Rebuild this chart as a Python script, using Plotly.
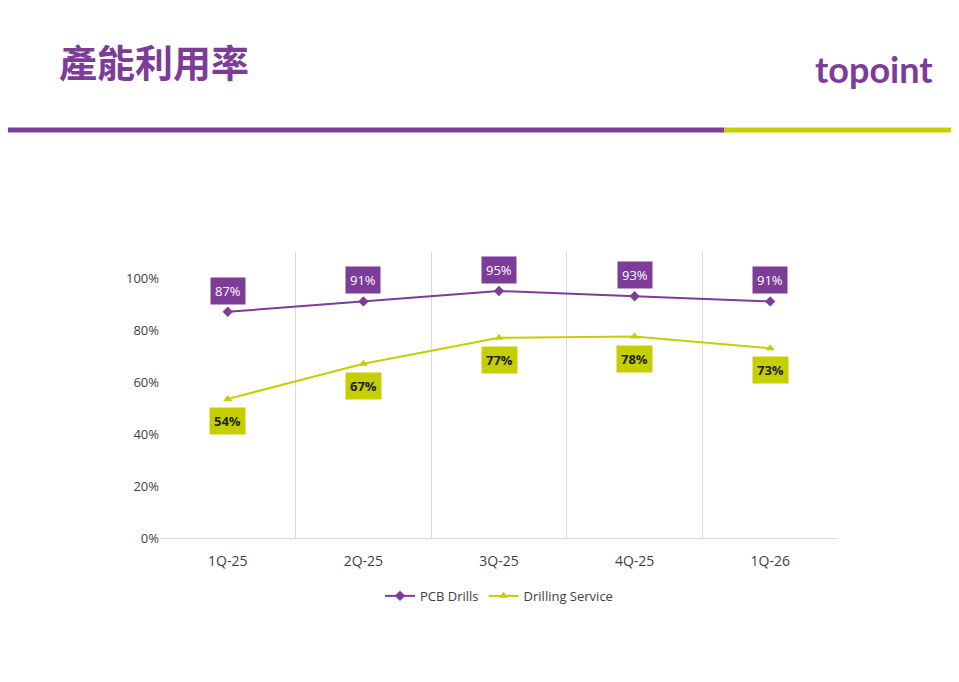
import plotly.graph_objects as go

categories = ["1Q-25", "2Q-25", "3Q-25", "4Q-25", "1Q-26"]
pcb_drills = [0.87, 0.91, 0.95, 0.93, 0.91]
drilling_service = [0.535, 0.67, 0.77, 0.775, 0.73]
pcb_labels = ["87%", "91%", "95%", "93%", "91%"]
ds_labels = ["54%", "67%", "77%", "78%", "73%"]
y_ticks = [0, 0.2, 0.4, 0.6, 0.8, 1.0]
y_tick_text = ["0%", "20%", "40%", "60%", "80%", "100%"]

PURPLE = "#7D3C98"
GREEN = "#C5CF00"
x = list(range(len(categories)))

fig = go.Figure()
fig.add_trace(go.Scatter(x=x, y=pcb_drills, mode="lines+markers", name="PCB Drills",
                         line=dict(color=PURPLE, width=2), marker=dict(symbol="diamond", size=8, color=PURPLE)))
fig.add_trace(go.Scatter(x=x, y=drilling_service, mode="lines+markers", name="Drilling Service",
                         line=dict(color=GREEN, width=2), marker=dict(symbol="triangle-up", size=8, color=GREEN)))
fig.add_trace(go.Scatter(x=[0], y=[0], xaxis="x2", showlegend=False, mode="markers",
                         marker=dict(opacity=0), hoverinfo="skip"))

ann = []
for i, (v, t) in enumerate(zip(pcb_drills, pcb_labels)):
    ann.append(dict(x=i, y=v, text=t, showarrow=False, yshift=21, bgcolor=PURPLE,
                    font=dict(color="white", size=13, family="Open Sans"), borderpad=4))
for i, (v, t) in enumerate(zip(drilling_service, ds_labels)):
    ann.append(dict(x=i, y=v, text="<b>" + t + "</b>", showarrow=False, yshift=-22, bgcolor=GREEN,
                    font=dict(color="#222", size=13, family="Open Sans"), borderpad=4))
ann.append(dict(xref="paper", yref="paper", x=-0.152, y=1.671, xanchor="left", yanchor="middle",
                text="<b>產能利用率</b>", showarrow=False,
                font=dict(size=38, color=PURPLE, family="Noto Sans CJK TC")))
ann.append(dict(xref="paper", yref="paper", x=1.143, y=1.64, xanchor="right", yanchor="middle",
                text="<b>topoint</b>", showarrow=False,
                font=dict(size=36, color=PURPLE, family="Lato")))
fig.update_layout(annotations=ann)

fig.add_shape(type="line", xref="paper", yref="paper", x0=-0.236, x1=0.832, y0=1.427, y1=1.427,
              line=dict(color=PURPLE, width=5))
fig.add_shape(type="line", xref="paper", yref="paper", x0=0.832, x1=1.2, y0=1.427, y1=1.427,
              line=dict(color=GREEN, width=5))

fig.update_layout(
    width=959, height=682, paper_bgcolor="white", plot_bgcolor="white",
    margin=dict(l=152, r=129, t=244, b=152),
    xaxis=dict(range=[-0.5, 4.5], tickvals=x, ticktext=categories, showgrid=False, zeroline=False,
               showline=True, linecolor="#d9d9d9", ticks="", ticklabelstandoff=10,
               tickfont=dict(size=14, color="#404040", family="Open Sans")),
    xaxis2=dict(range=[-0.5, 4.5], overlaying="x", tickvals=[0.5, 1.5, 2.5, 3.5], showticklabels=False,
                showgrid=True, gridcolor="#d9d9d9", zeroline=False),
    yaxis=dict(range=[0, 1.1], tickvals=y_ticks, ticktext=y_tick_text, showgrid=False, zeroline=False,
               tickfont=dict(size=13, color="#404040", family="Open Sans")),
    legend=dict(orientation="h", x=0.5, xanchor="center", y=-0.15, yanchor="top",
                font=dict(size=13, color="#404040", family="Open Sans")),
    showlegend=True,
)
fig.write_html("out.html")
